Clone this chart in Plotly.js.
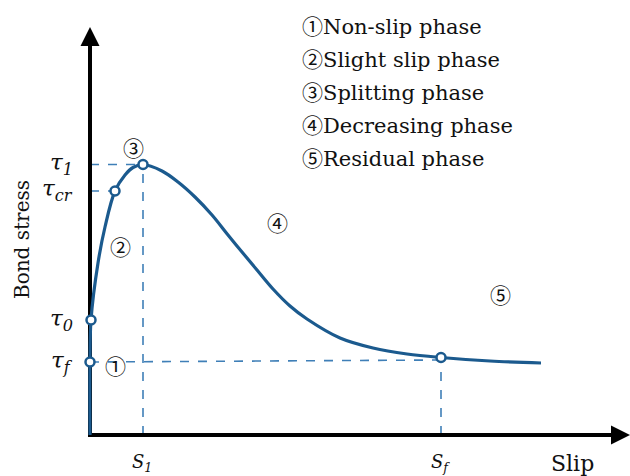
<!DOCTYPE html>
<html><head><meta charset="utf-8">
<script src="https://cdn.plot.ly/plotly-3.0.1.min.js"></script>
<style>html,body{margin:0;padding:0;background:#fff}#chart{width:630px;height:476px}</style>
</head><body><div id="chart"></div>
<script>
// Schematic bond stress - slip curve (arbitrary units)
var slipCurve   = [0, 0, 1, 8, 15, 25, 35, 43, 53, 72, 88, 105, 122, 138, 152, 167, 183, 200, 217, 250, 283, 317, 351, 400, 451];
var stressCurve = [0, 73, 115, 172, 208, 244, 260, 267.5, 270.5, 264, 253, 238, 220, 200, 183, 165, 146, 129, 116, 97, 87, 81, 77.5, 74, 72];

var keyNames  = ['τf', 'τ0', 'τcr', 'τ1', 'sf'];
var keySlip   = [0, 1, 25, 53, 351];
var keyStress = [73, 115, 244, 270.5, 77.5];

var yTickLabels = ['<i>τ</i><sub><i>1</i></sub>', '<i>τ</i><sub><i>cr</i></sub>', '<i>τ</i><sub><i>0</i></sub>', '<i>τ</i><sub><i>f</i></sub>'];
var yTickValues = [271, 245, 115, 73];
var xTickLabels = ['<i>S</i><sub><i>1</i></sub>', '<i>S</i><sub><i>f</i></sub>'];
var xTickValues = [52, 350];

var phaseLabels = ['①', '②', '③', '④', '⑤'];
var phaseSlip   = [25, 30, 43, 187, 410];
var phaseStress = [70, 189, 288, 213, 141];

var legendNames = ['Non-slip phase', 'Slight slip phase', 'Splitting phase', 'Decreasing phase', 'Residual phase'];

var blue = '#1b5a8e', dashBlue = '#3f7fb7';
var serif = 'DejaVu Serif, serif';
var cjk = 'Noto Sans CJK SC, DejaVu Sans, sans-serif';

var traces = [
  {x: slipCurve, y: stressCurve, mode: 'lines', type: 'scatter',
   line: {color: blue, width: 3.2, shape: 'spline', smoothing: 1}, hoverinfo: 'skip'},
  {x: keySlip, y: keyStress, mode: 'markers', type: 'scatter', text: keyNames,
   marker: {size: 9, color: '#fff', line: {color: blue, width: 2.5}}, cliponaxis: false}
];

var shapes = [];
var dash = {color: dashBlue, width: 1.6, dash: 'dash'};
shapes.push({type: 'line', xref: 'x', yref: 'y', x0: 0, x1: keySlip[3], y0: keyStress[3], y1: keyStress[3], line: dash, layer: 'below'});
shapes.push({type: 'line', xref: 'x', yref: 'y', x0: 0, x1: keySlip[2], y0: keyStress[2], y1: keyStress[2], line: dash, layer: 'below'});
shapes.push({type: 'line', xref: 'x', yref: 'y', x0: keySlip[3], x1: keySlip[3], y0: 0, y1: keyStress[3], line: dash, layer: 'below'});
shapes.push({type: 'line', xref: 'x', yref: 'y', x0: 0, x1: keySlip[4], y0: keyStress[0], y1: keyStress[0] + 2, line: dash, layer: 'below'});
shapes.push({type: 'line', xref: 'x', yref: 'y', x0: keySlip[4], x1: keySlip[4], y0: 0, y1: keyStress[4], line: dash, layer: 'below'});
shapes.push({type: 'line', xref: 'x', yref: 'y', x0: 0, x1: 0, y0: -1, y1: 392, line: {color: '#000', width: 4}, layer: 'below'});
shapes.push({type: 'line', xref: 'x', yref: 'y', x0: -2, x1: 525, y0: 0, y1: 0, line: {color: '#000', width: 4}, layer: 'below'});

var ann = [];
ann.push({x: 0, y: 408, ax: 0, ay: 385, xref: 'x', yref: 'y', axref: 'x', ayref: 'y', text: '', showarrow: true,
  arrowhead: 2, arrowsize: 0.95, arrowwidth: 4, arrowcolor: '#000'});
ann.push({x: 540, y: 0, ax: 515, ay: 0, xref: 'x', yref: 'y', axref: 'x', ayref: 'y', text: '', showarrow: true,
  arrowhead: 2, arrowsize: 0.95, arrowwidth: 4, arrowcolor: '#000'});

for (var i = 0; i < yTickLabels.length; i++) {
  ann.push({x: -15, y: yTickValues[i], xref: 'x', yref: 'y', text: yTickLabels[i], showarrow: false,
    xanchor: 'right', yanchor: 'middle', font: {family: serif, size: 23, color: '#111'}});
}
for (var j = 0; j < xTickLabels.length; j++) {
  ann.push({x: xTickValues[j], y: -28, xref: 'x', yref: 'y', text: xTickLabels[j], showarrow: false,
    xanchor: 'center', yanchor: 'middle', font: {family: serif, size: 18, color: '#111'}});
}
for (var k = 0; k < phaseLabels.length; k++) {
  ann.push({x: phaseSlip[k], y: phaseStress[k], xref: 'x', yref: 'y', text: phaseLabels[k], showarrow: false,
    xanchor: 'center', yanchor: 'middle', font: {family: cjk, size: 21, color: '#111'}});
}
for (var m = 0; m < legendNames.length; m++) {
  ann.push({x: 210, y: 410 - m * 33, xref: 'x', yref: 'y',
    text: '<span style="font-family:Noto Sans CJK SC">' + phaseLabels[m] + '</span>' + legendNames[m],
    showarrow: false, xanchor: 'left', yanchor: 'middle', font: {family: serif, size: 21, color: '#111'}});
}
ann.push({x: -68, y: 195, xref: 'x', yref: 'y', text: 'Bond stress', textangle: -90, showarrow: false,
  xanchor: 'center', yanchor: 'middle', font: {family: serif, size: 20, color: '#111'}});
ann.push({x: 482, y: -28, xref: 'x', yref: 'y', text: 'Slip', showarrow: false,
  xanchor: 'center', yanchor: 'middle', font: {family: serif, size: 22, color: '#111'}});

var layout = {
  width: 630, height: 476,
  margin: {l: 0, r: 0, t: 0, b: 0},
  paper_bgcolor: '#fff', plot_bgcolor: '#fff',
  showlegend: false,
  xaxis: {range: [-90, 540], visible: false, fixedrange: true},
  yaxis: {range: [-41, 435], visible: false, fixedrange: true},
  shapes: shapes,
  annotations: ann
};

Plotly.newPlot('chart', traces, layout, {displayModeBar: false, staticPlot: true});
</script>
</body></html>
